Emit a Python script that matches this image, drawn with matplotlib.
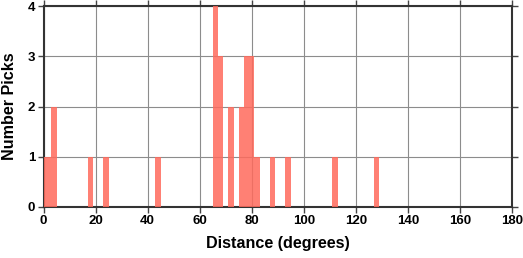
import matplotlib.pyplot as plt
import numpy as np

plt.rcParams['font.family'] = ['Liberation Sans', 'DejaVu Sans']
plt.rcParams['font.weight'] = 'bold'

# histogram bins (2 degree wide, centred on even numbers)
centers = [0, 2, 4, 18, 24, 44, 66, 68, 72, 76, 78, 80, 82, 88, 94, 112, 128]
counts = [1, 1, 2, 1, 1, 1, 4, 3, 2, 2, 3, 3, 1, 1, 1, 1, 1]

fig = plt.figure(figsize=(5.23, 2.58), dpi=100)
ax = fig.add_axes([0.0832, 0.1977, 0.8958, 0.779])

ax.bar(centers, counts, width=2.1, color='#ff6a5c', alpha=0.85, linewidth=0, zorder=3)

ax.set_xlim(0, 180)
ax.set_ylim(0, 4)
ax.set_xticks(np.arange(0, 181, 20))
ax.set_yticks([0, 1, 2, 3, 4])
ax.grid(True, color='#8c8c8c', linewidth=0.8, zorder=0)
ax.set_axisbelow(True)

ax.tick_params(direction='out', length=4, width=1, color='#444444',
               top=True, right=True, labelsize=9.5, pad=2)
for lab in ax.get_xticklabels() + ax.get_yticklabels():
    lab.set_fontweight('bold')
for s in ax.spines.values():
    s.set_linewidth(1.5)
    s.set_color('#333333')

ax.set_xlabel('Distance (degrees)', fontsize=11.6, fontweight='bold', labelpad=6)
ax.set_ylabel('Number Picks', fontsize=11.6, fontweight='bold', labelpad=8)

fig.savefig('out.png', dpi=100)
